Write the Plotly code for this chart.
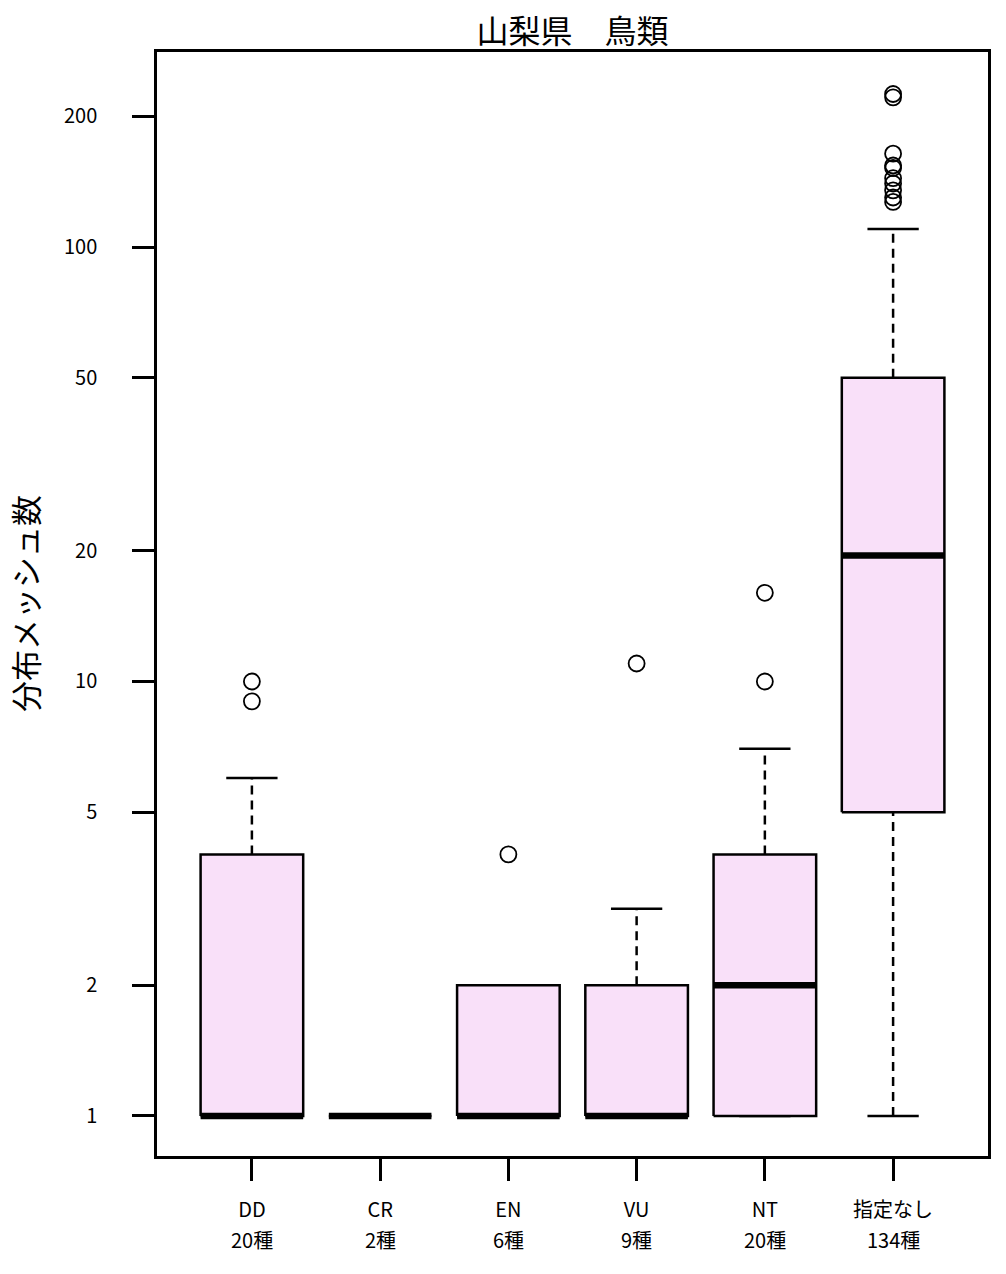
import math
import plotly.graph_objects as go

categories = ["DD", "CR", "EN", "VU", "NT", "指定なし"]
species_counts = [20, 2, 6, 9, 20, 134]
q1 = [1, 1, 1, 1, 1, 5]
median = [1, 1, 1, 1, 2, 19.5]
q3 = [4, 1, 2, 2, 4, 50]
whisker_low = [1, 1, 1, 1, 1, 1]
whisker_high = [6, 1, 2, 3, 7, 110]
outliers = [
    [9, 10],
    [],
    [4],
    [11],
    [10, 16],
    [127, 130, 135, 140, 144, 152, 154, 164, 221, 225],
]
y_ticks = [1, 2, 5, 10, 20, 50, 100, 200]

FONT = "Noto Sans CJK JP"
BOX_FILL = "#F9E0F9"
half = 0.4     # half box width (boxwex 0.8)
cap = 0.2      # half staple width

fig = go.Figure()

for i, cat in enumerate(categories):
    x = i + 1
    # whiskers (dashed)
    if whisker_high[i] > q3[i]:
        fig.add_trace(go.Scatter(x=[x, x], y=[q3[i], whisker_high[i]], mode="lines",
                                 line=dict(color="black", width=2.5, dash="9px,6px"),
                                 hoverinfo="skip", showlegend=False))
    if whisker_low[i] < q1[i]:
        fig.add_trace(go.Scatter(x=[x, x], y=[whisker_low[i], q1[i]], mode="lines",
                                 line=dict(color="black", width=2.5, dash="9px,6px"),
                                 hoverinfo="skip", showlegend=False))
    # staples
    for w in (whisker_low[i], whisker_high[i]):
        fig.add_trace(go.Scatter(x=[x - cap, x + cap], y=[w, w], mode="lines",
                                 line=dict(color="black", width=2.5),
                                 hoverinfo="skip", showlegend=False))
    # box
    fig.add_trace(go.Scatter(x=[x - half, x + half, x + half, x - half, x - half],
                             y=[q1[i], q1[i], q3[i], q3[i], q1[i]],
                             mode="lines", fill="toself", fillcolor=BOX_FILL,
                             line=dict(color="black", width=2.5),
                             hoverinfo="skip", showlegend=False))
    # median
    fig.add_trace(go.Scatter(x=[x - half, x + half], y=[median[i], median[i]], mode="lines",
                             line=dict(color="black", width=6.5),
                             hoverinfo="skip", showlegend=False))
    # outliers
    if outliers[i]:
        fig.add_trace(go.Scatter(x=[x] * len(outliers[i]), y=outliers[i], mode="markers",
                                 marker=dict(symbol="circle-open", size=16, color="black",
                                             line=dict(width=1.8, color="black")),
                                 hoverinfo="skip", showlegend=False))

annotations = [dict(text="分布メッシュ数", xref="paper", yref="paper",
                    x=(24 - 157) / 831, y=0.5, textangle=-90, showarrow=False,
                    xanchor="center", yanchor="middle",
                    font=dict(family=FONT, size=31, color="black"))]
for i, n in enumerate(species_counts):
    annotations.append(dict(text=f"{n}種", xref="x", yref="paper", x=i + 1, y=0,
                            yshift=-83, showarrow=False, xanchor="center",
                            yanchor="middle",
                            font=dict(family=FONT, size=20, color="black")))

fig.update_layout(
    width=1006, height=1274,
    margin=dict(l=157, r=18, t=52, b=118),
    paper_bgcolor="white", plot_bgcolor="white",
    font=dict(family=FONT, size=20, color="black"),
    title=dict(text="山梨県　鳥類", x=(157 + 988) / 2 / 1006, xanchor="center",
               xref="container", yref="container", y=1 - 32 / 1274, yanchor="middle",
               font=dict(family=FONT, size=32, color="black")),
    xaxis=dict(range=[0.26, 6.74], tickvals=list(range(1, len(categories) + 1)),
               ticktext=categories, ticks="outside", ticklen=22, tickwidth=2.5,
               tickcolor="black", showgrid=False, zeroline=False,
               showline=True, linecolor="black", linewidth=2.5, mirror=True,
               ticklabelstandoff=12, tickfont=dict(family=FONT, size=20)),
    yaxis=dict(type="log", range=[-0.0921, 2.4488], tickvals=y_ticks,
               ticktext=[str(v) for v in y_ticks], ticks="outside", ticklen=22,
               tickwidth=2.5, tickcolor="black", showgrid=False, zeroline=False,
               showline=True, linecolor="black", linewidth=2.5, mirror=True,
               ticklabelstandoff=31, tickfont=dict(family=FONT, size=20)),
    annotations=annotations,
)

fig.write_html("out.html")
